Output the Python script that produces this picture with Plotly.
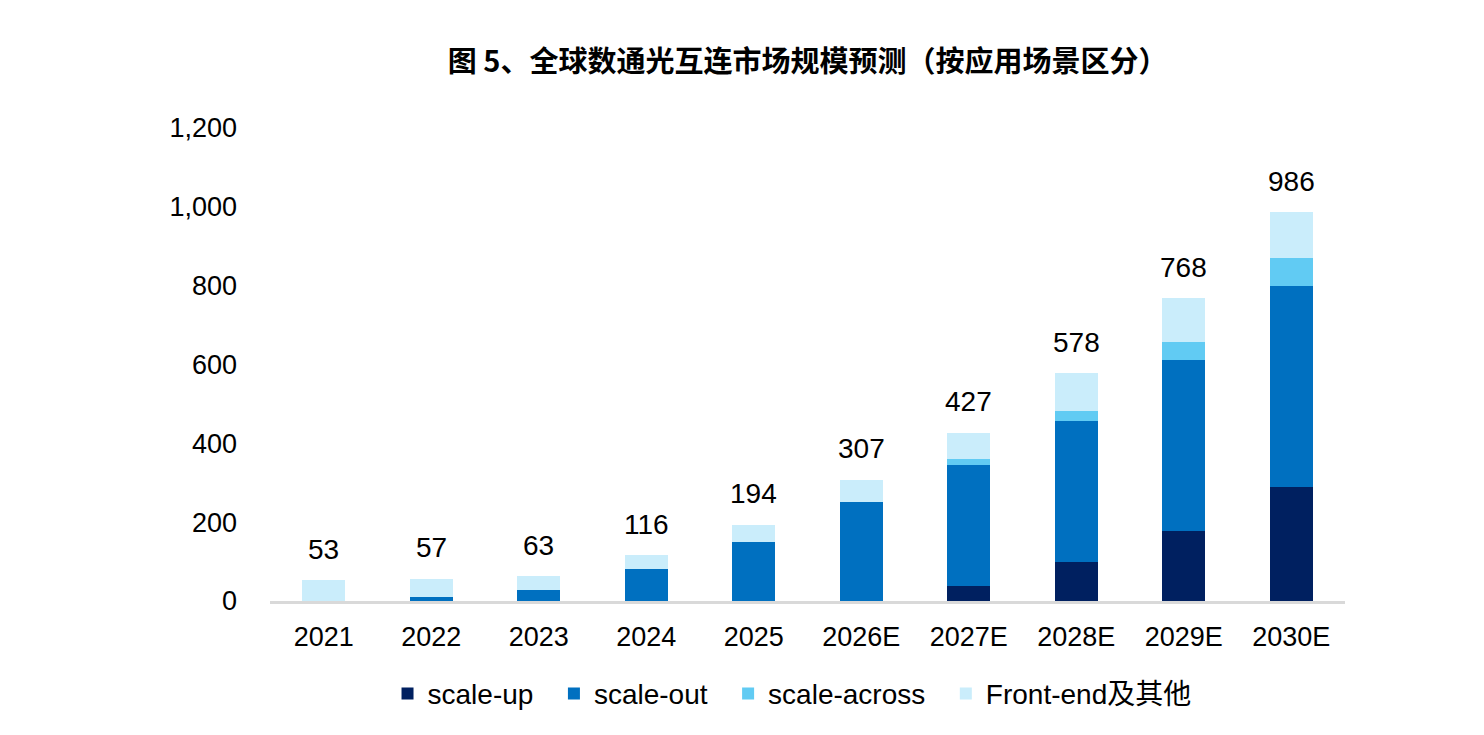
import plotly.graph_objects as go

years = ["2021", "2022", "2023", "2024", "2025", "2026E", "2027E", "2028E", "2029E", "2030E"]
scale_up = [0, 0, 0, 0, 0, 0, 39, 98, 178, 290]
scale_out = [0, 9, 27, 81, 149, 251, 307, 359, 433, 509]
scale_across = [0, 0, 0, 0, 0, 0, 13, 26, 47, 71]
front_end = [53, 48, 36, 35, 45, 56, 68, 95, 110, 116]
totals = [53, 57, 63, 116, 194, 307, 427, 578, 768, 986]

series = [
    ("scale-up", scale_up, "#002060"),
    ("scale-out", scale_out, "#0070C0"),
    ("scale-across", scale_across, "#61CBF3"),
    ("Front-end及其他", front_end, "#CAEDFB"),
]

pad = "\u00a0\u00a0"  # widen gap between legend entries
fig = go.Figure()
for k, (name, vals, col) in enumerate(series):
    label = name + (pad if k < len(series) - 1 else "")
    fig.add_trace(go.Bar(x=years, y=vals, name=label, marker=dict(color=col, line=dict(width=0))))

# category axis: annotation x given as category index
for i, tot in enumerate(totals):
    fig.add_annotation(x=i, y=tot, text=str(tot), showarrow=False, yanchor="middle", yshift=31,
                       font=dict(size=28, color="#000000", family="Liberation Sans, Arial"))

fig.update_layout(
    width=1484, height=735,
    barmode="stack", bargap=0.6,
    plot_bgcolor="white", paper_bgcolor="white",
    margin=dict(l=262, r=147, t=120, b=142),
    font=dict(family="Liberation Sans, Arial, Noto Sans CJK SC", size=27, color="#000000"),
    title=dict(text="<b>图 5、全球数通光互连市场规模预测（按应用场景区分）</b>",
               font=dict(family="Noto Sans CJK SC", size=29, color="#000000"),
               x=0.5388, xanchor="center", y=0.9265, yanchor="middle"),
    legend=dict(orientation="h", x=0.4856, xanchor="center", y=-0.196, yanchor="middle",
                font=dict(size=28, family="Liberation Sans, Arial, Noto Sans CJK SC"),
                itemwidth=30, traceorder="normal", bgcolor="rgba(0,0,0,0)"),
    xaxis=dict(type="category", categoryorder="array", categoryarray=years,
               range=[-0.5, len(years) - 0.5],
               showline=True, linecolor="#D9D9D9", linewidth=3, showgrid=False,
               ticks="", ticklabelstandoff=10, tickfont=dict(size=27)),
    yaxis=dict(range=[0, 1200], dtick=200, tickformat=",d", showgrid=False, zeroline=False,
               showline=False, ticks="", ticklabelstandoff=32, tickfont=dict(size=27)),
)

fig.write_html("out.html")
